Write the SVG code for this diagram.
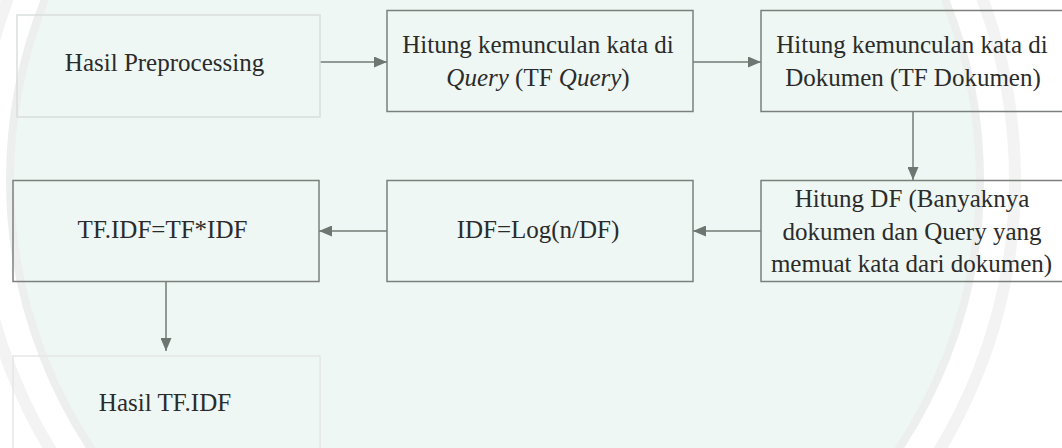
<svg xmlns="http://www.w3.org/2000/svg" width="1062" height="448" viewBox="0 0 1062 448">
  <style>
    .box { fill: none; stroke: #7b807d; stroke-width: 1.5; }
    .faint { fill: none; stroke: #d9dedb; stroke-width: 1.5; }
    .lbl { font-family: "Liberation Serif", "Times New Roman", serif; font-size: 25px; fill: #2b2b2b; text-anchor: middle; }
    .conn { stroke: #737b77; stroke-width: 1.5; fill: none; marker-end: url(#arrow); }
  </style>
  <defs>
    <marker id="arrow" markerUnits="userSpaceOnUse" markerWidth="13" markerHeight="11" refX="13" refY="5.5" orient="auto">
      <path d="M0,0 L13,5.5 L0,11 z" fill="#6e7672"/>
    </marker>
  </defs>

  <g id="background">
    <rect x="0" y="0" width="1062" height="448" fill="#ffffff"/>
    <circle cx="495" cy="180" r="520" fill="none" stroke="#f2f3f2" stroke-width="12"/>
    <circle cx="495" cy="180" r="485" fill="#eef7f3" stroke="#ecefed" stroke-width="8"/>
  </g>

  <g id="connectors">
    <line class="conn" x1="320" y1="62" x2="387" y2="62"/>
    <line class="conn" x1="693" y1="62" x2="761" y2="62"/>
    <line class="conn" x1="913" y1="112" x2="913" y2="180"/>
    <line class="conn" x1="761" y1="231" x2="693" y2="231"/>
    <line class="conn" x1="387" y1="231" x2="319" y2="231"/>
    <line class="conn" x1="166" y1="282" x2="166" y2="351"/>
  </g>

  <g id="node-preprocessing">
    <rect class="faint" x="17" y="15" width="303" height="102"/>
    <text class="lbl" x="164.5" y="71">Hasil Preprocessing</text>
  </g>

  <g id="node-tf-query">
    <rect class="box" x="387" y="10.5" width="306" height="101"/>
    <text class="lbl" x="538" y="53">Hitung kemunculan kata di</text>
    <text class="lbl" x="538" y="86"><tspan font-style="italic">Query</tspan> (TF <tspan font-style="italic">Query</tspan>)</text>
  </g>

  <g id="node-tf-dokumen">
    <rect class="box" x="761" y="10.5" width="306" height="101"/>
    <text class="lbl" x="912" y="53">Hitung kemunculan kata di</text>
    <text class="lbl" x="913" y="86">Dokumen (TF Dokumen)</text>
  </g>

  <g id="node-df">
    <rect class="box" x="761" y="180.5" width="306" height="101"/>
    <text class="lbl" x="912" y="207">Hitung DF (Banyaknya</text>
    <text class="lbl" x="912" y="240">dokumen dan Query yang</text>
    <text class="lbl" x="911.5" y="272">memuat kata dari dokumen)</text>
  </g>

  <g id="node-idf">
    <rect class="box" x="387" y="180.5" width="306" height="101"/>
    <text class="lbl" x="538" y="238">IDF=Log(n/DF)</text>
  </g>

  <g id="node-tfidf">
    <rect class="box" x="13" y="180.5" width="306" height="101"/>
    <text class="lbl" x="162.5" y="238">TF.IDF=TF*IDF</text>
  </g>

  <g id="node-hasil-tfidf">
    <rect x="13" y="356" width="307" height="110" fill="none" stroke="#e3e8e5" stroke-width="1.5"/>
    <text class="lbl" x="165" y="411">Hasil TF.IDF</text>
  </g>
</svg>
